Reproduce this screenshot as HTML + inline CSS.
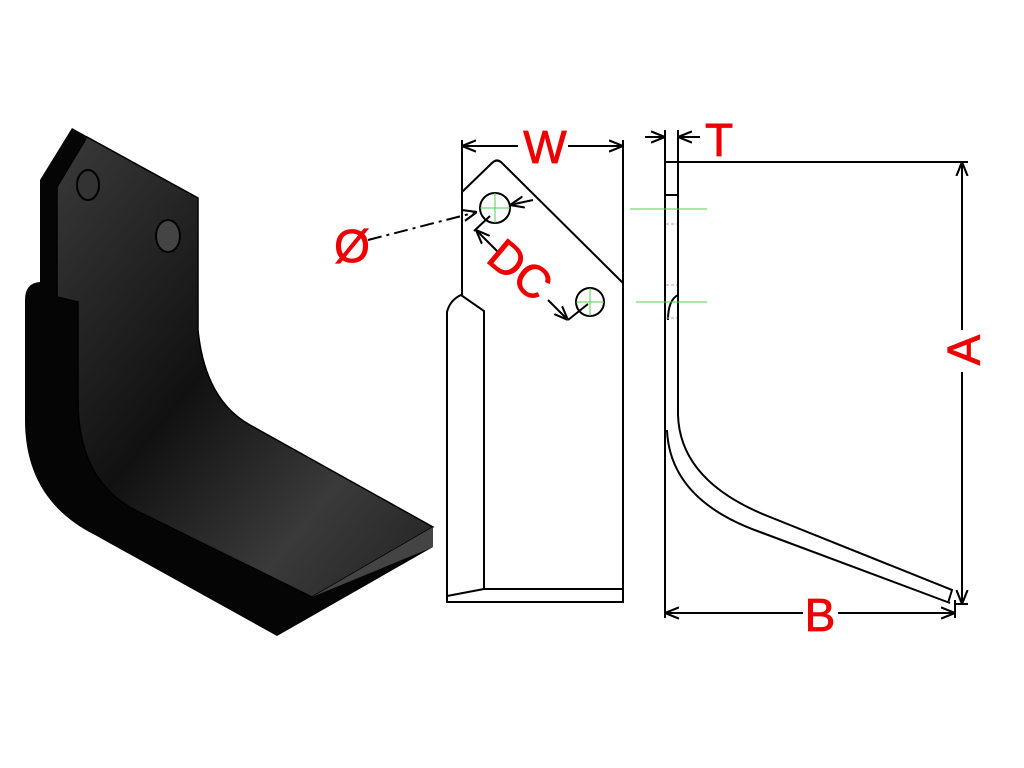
<!DOCTYPE html>
<html><head><style>html,body{margin:0;padding:0;background:#fff}svg{display:block}</style></head>
<body>
<svg width="1024" height="768" viewBox="0 0 1024 768" xmlns="http://www.w3.org/2000/svg">
<defs>
<linearGradient id="g1" x1="0" y1="0" x2="1" y2="1">
<stop offset="0" stop-color="#3a3a3a"/><stop offset="0.45" stop-color="#111"/><stop offset="0.75" stop-color="#3a3a3a"/><stop offset="1" stop-color="#222"/>
</linearGradient>
<marker id="ar" viewBox="0 0 10 10" refX="10" refY="5" markerWidth="7" markerHeight="7" orient="auto-start-reverse"><path d="M0,1 L10,5 L0,9" fill="none" stroke="#000" stroke-width="1.5"/></marker>
</defs>
<path d="M72,128 L198,198 L198,330 Q205,400 250,425 L433,527 L433,547 L277,636 L95,535 Q25,500 25,420 L25,300 Q25,283 40,282 L40,180 Z" fill="#050505"/>
<path d="M87,137 L198,198 L198,330 Q205,400 250,425 L433,527 L312,597 L135,510 Q78,480 78,400 L78,302 L57,297 L57,187 Z" fill="url(#g1)" stroke="#000" stroke-width="1.5"/>
<path d="M312,597 L433,547 L433,527 Z" fill="#444"/>
<ellipse cx="88" cy="185" rx="11" ry="15" fill="#333" stroke="#000" stroke-width="2"/>
<ellipse cx="168" cy="236" rx="12" ry="16" fill="#444" stroke="#000" stroke-width="2"/>
<g fill="none" stroke="#000" stroke-width="2">
<path d="M462,140 L462,192 L492,163 Q497,158 502,163 L623,283 L623,602 L447,602 L447,312 Q450,300 461,295 L484,311 L484,589 L623,589"/>
<line x1="462" y1="192" x2="462" y2="295"/>
<line x1="447" y1="596" x2="484" y2="589"/>
<line x1="623" y1="140" x2="623" y2="283"/>
<line x1="462" y1="146" x2="518" y2="146" marker-start="url(#ar)"/>
<line x1="568" y1="146" x2="623" y2="146" marker-end="url(#ar)"/>
<circle cx="495" cy="208" r="15"/>
<circle cx="590" cy="302" r="14"/>
<line x1="368" y1="240" x2="477" y2="212" stroke-dasharray="14,5,3,5" marker-end="url(#ar)"/>
<line x1="533" y1="200" x2="510" y2="205" marker-end="url(#ar)"/>
<line x1="474" y1="231" x2="490" y2="216"/>
<line x1="498" y1="252" x2="476" y2="230" marker-end="url(#ar)"/>
<line x1="548" y1="300" x2="568" y2="320" marker-end="url(#ar)"/>
<line x1="568" y1="320" x2="588" y2="304"/>
<line x1="665" y1="130" x2="665" y2="618"/>
<line x1="678" y1="130" x2="678" y2="415"/>
<line x1="665" y1="162" x2="968" y2="162"/>
<line x1="665" y1="195" x2="678" y2="195"/>
<path d="M668,320 Q668,300 678,295"/>
<path d="M667,430 Q670,500 760,532 L950,603"/>
<path d="M678,415 Q680,480 765,515 L952,590 L948,603"/>
<line x1="645" y1="137" x2="665" y2="137" marker-end="url(#ar)"/>
<line x1="700" y1="137" x2="678" y2="137" marker-end="url(#ar)"/>
<line x1="962" y1="162" x2="962" y2="330" marker-start="url(#ar)"/>
<line x1="962" y1="372" x2="962" y2="604" marker-end="url(#ar)"/>
<line x1="955" y1="604" x2="968" y2="604"/>
<line x1="955" y1="600" x2="955" y2="618"/>
<line x1="665" y1="613" x2="803" y2="613" marker-start="url(#ar)"/>
<line x1="838" y1="613" x2="955" y2="613" marker-end="url(#ar)"/>
</g>
<g stroke="#5c5" stroke-width="1">
<line x1="480" y1="208" x2="510" y2="208"/><line x1="495" y1="193" x2="495" y2="223"/>
<line x1="576" y1="302" x2="604" y2="302"/><line x1="590" y1="288" x2="590" y2="316"/>
<line x1="630" y1="209" x2="707" y2="209"/><line x1="636" y1="302" x2="707" y2="302"/>
</g>
<g stroke="#c8c" stroke-width="1" stroke-dasharray="3,2">
<line x1="666" y1="224" x2="677" y2="224"/><line x1="666" y1="285" x2="677" y2="285"/><line x1="666" y1="318" x2="677" y2="318"/>
</g>
<g fill="#e00" font-family="Liberation Sans, sans-serif" font-size="46" stroke="#e00" stroke-width="0.8">
<text x="352" y="262" text-anchor="middle">Ø</text>
<text x="545" y="163" text-anchor="middle">W</text>
<text x="719" y="156" text-anchor="middle">T</text>
<text x="820" y="631" text-anchor="middle">B</text>
<text x="0" y="0" text-anchor="middle" transform="translate(980,350) rotate(-90)">A</text>
<text x="0" y="0" text-anchor="middle" transform="translate(510,282) rotate(40)">DC</text>
</g>
</svg>
</body></html>
